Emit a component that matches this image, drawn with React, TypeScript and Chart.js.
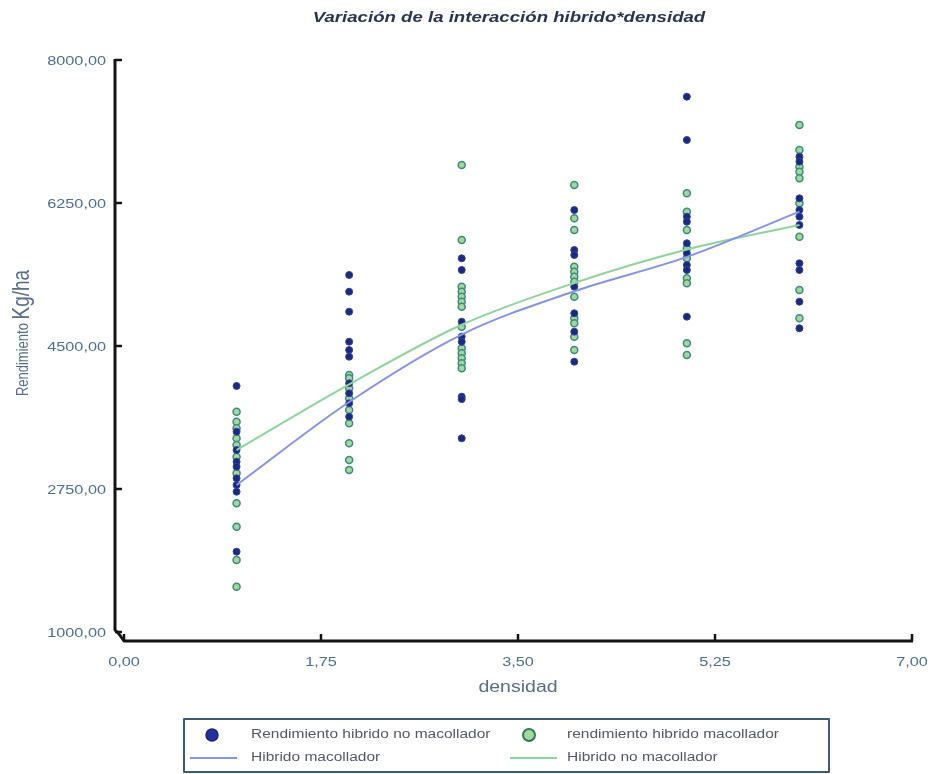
import React, { useEffect, useRef } from 'react';
import { Chart, registerables } from 'chart.js';

Chart.register(...registerables);

// ---------- data ----------
const densities = [1, 2, 3, 4, 5, 6];
const xTickStep = 1.75;
const xMin = 0;
const xMax = 7;
const yTickStep = 1750;
const yMin = 1000;
const yMax = 8000;

// Rendimiento híbrido no macollador (dark blue points), one list per density
const rendNoMacollador: number[][] = [
  [4011, 3451, 3227, 3084, 3023, 2881, 2799, 2717, 1983],
  [5369, 5165, 4920, 4553, 4451, 4369, 4044, 3921, 3799, 3635],
  [5573, 5430, 4797, 4614, 4553, 3880, 3850, 3370],
  [6164, 5675, 5614, 5226, 4900, 4675, 4308],
  [7551, 7021, 6083, 6021, 5757, 5634, 5491, 5430, 4859],
  [6817, 6756, 6307, 6164, 6083, 5981, 5512, 5430, 5042, 4717],
];

// rendimiento híbrido macollador (green points), one list per density
const rendMacollador: number[][] = [
  [3696, 3574, 3493, 3370, 3289, 3145, 2942, 2575, 2289, 1881, 1554],
  [4145, 4105, 3982, 3860, 3717, 3554, 3309, 3105, 2983],
  [6715, 5797, 5226, 5165, 5104, 5042, 4981, 4736, 4471, 4410, 4349, 4288, 4227],
  [6470, 6062, 5920, 5471, 5410, 5348, 5287, 5104, 4839, 4778, 4614, 4451],
  [6369, 6144, 5920, 5696, 5573, 5329, 5267, 4533, 4390],
  [7205, 6899, 6695, 6633, 6552, 6246, 5838, 5185, 4839],
];

// fitted curves
const fitMacollador = [2799, 3815, 4640, 5170, 5590, 6144];
const fitNoMacollador = [3227, 4030, 4760, 5271, 5680, 5981];

// ---------- text ----------
const chartTitle = 'Variación de la interacción hibrido*densidad';
const xTitle = 'densidad';
const yTitleSmall = 'Rendimiento';
const yTitleBig = 'Kg/ha';
const legendPointNoMac = 'Rendimiento hibrido no macollador';
const legendPointMac = 'rendimiento hibrido macollador';
const legendLineMac = 'Hibrido macollador';
const legendLineNoMac = 'Hibrido no macollador';

// ---------- styles ----------
const FONT = '"Liberation Sans", Arial, sans-serif';
const blueFill = '#1c2a7a';
const blueBorder = '#34429c';
const greenFill = '#a3d79e';
const greenBorder = '#3f8a80';
const blueLine = '#8594e6';
const greenLine = '#8fd49c';
const tickColor = '#4e6e92';
const STRETCH = 1.25;

const fmt = (v: number) => v.toFixed(2).replace('.', ',');

const toPoints = (cols: number[][]) =>
  cols.flatMap((col, i) => col.map((y) => ({ x: densities[i], y })));

function drawText(
  ctx: CanvasRenderingContext2D,
  text: string,
  x: number,
  y: number,
  font: string,
  color: string,
  align: CanvasTextAlign,
  sx: number = STRETCH
) {
  ctx.save();
  ctx.font = font;
  ctx.fillStyle = color;
  ctx.textBaseline = 'middle';
  ctx.textAlign = align;
  ctx.translate(x, y);
  ctx.scale(sx, 1);
  ctx.fillText(text, 0, 0);
  ctx.restore();
}

const decorPlugin = {
  id: 'decor',
  afterDraw(chart: any) {
    const ctx: CanvasRenderingContext2D = chart.ctx;
    const xs = chart.scales.x;
    const ys = chart.scales.y;
    const area = chart.chartArea;
    ctx.save();

    // axes (offset style)
    const axX = area.left - 9;
    const axY = area.bottom + 9;
    ctx.strokeStyle = '#141414';
    ctx.lineWidth = 3;
    ctx.lineJoin = 'round';
    ctx.beginPath();
    ctx.moveTo(axX, ys.getPixelForValue(yMax) - 1);
    ctx.lineTo(axX, area.bottom - 2);
    ctx.lineTo(axX + 4, area.bottom + 2);
    ctx.lineTo(area.left, axY);
    ctx.lineTo(xs.getPixelForValue(xMax) + 1, axY);
    ctx.stroke();

    ctx.lineWidth = 2.5;
    ys.ticks.forEach((t: any) => {
      const y = ys.getPixelForValue(t.value);
      ctx.beginPath();
      ctx.moveTo(axX, y);
      ctx.lineTo(axX + 7, y);
      ctx.stroke();
      drawText(ctx, fmt(t.value), axX - 9, y + 1, `13px ${FONT}`, tickColor, 'right');
    });
    xs.ticks.forEach((t: any) => {
      const x = xs.getPixelForValue(t.value);
      ctx.beginPath();
      ctx.moveTo(x, axY);
      ctx.lineTo(x, axY - 7);
      ctx.stroke();
      drawText(ctx, fmt(t.value), x, axY + 21, `13px ${FONT}`, tickColor, 'center');
    });

    // title
    drawText(ctx, chartTitle, 509, 18, `bold italic 14px ${FONT}`, '#2a3454', 'center', 1.33);

    // x title
    drawText(ctx, xTitle, (area.left + area.right) / 2, 688, `16px ${FONT}`, '#5a6e8c', 'center', 1.22);

    // y title (two sizes), stretched horizontally in image space
    ctx.save();
    ctx.translate(22, 333);
    ctx.rotate(-Math.PI / 2);
    ctx.scale(1, STRETCH);
    ctx.textAlign = 'left';
    ctx.textBaseline = 'middle';
    ctx.fillStyle = '#5a6e8c';
    ctx.font = `13px ${FONT}`;
    const wSmall = ctx.measureText(yTitleSmall + ' ').width;
    ctx.font = `19px ${FONT}`;
    const wBig = ctx.measureText(yTitleBig).width;
    const start = -(wSmall + wBig) / 2;
    ctx.font = `13px ${FONT}`;
    ctx.fillText(yTitleSmall, start, 1);
    ctx.font = `19px ${FONT}`;
    ctx.fillText(yTitleBig, start + wSmall, 0);
    ctx.restore();

    // legend
    ctx.strokeStyle = '#3c5a76';
    ctx.lineWidth = 2;
    ctx.strokeRect(184, 719, 645, 53);
    const r1 = 735;
    const r2 = 758;
    // blue point
    ctx.beginPath();
    ctx.arc(212, r1, 6, 0, Math.PI * 2);
    ctx.fillStyle = '#25319a';
    ctx.fill();
    ctx.lineWidth = 1.5;
    ctx.strokeStyle = '#1c2578';
    ctx.stroke();
    // green point
    ctx.beginPath();
    ctx.arc(529, r1, 6, 0, Math.PI * 2);
    ctx.fillStyle = greenFill;
    ctx.fill();
    ctx.lineWidth = 2;
    ctx.strokeStyle = '#2f7a52';
    ctx.stroke();
    // lines
    ctx.lineWidth = 2;
    ctx.strokeStyle = blueLine;
    ctx.beginPath();
    ctx.moveTo(190, r2);
    ctx.lineTo(237, r2);
    ctx.stroke();
    ctx.strokeStyle = greenLine;
    ctx.beginPath();
    ctx.moveTo(510, r2);
    ctx.lineTo(557, r2);
    ctx.stroke();
    const lf = `12.5px ${FONT}`;
    const lc = '#555a66';
    drawText(ctx, legendPointNoMac, 251, r1, lf, lc, 'left', 1.24);
    drawText(ctx, legendPointMac, 567, r1, lf, lc, 'left', 1.24);
    drawText(ctx, legendLineMac, 251, r2, lf, lc, 'left', 1.24);
    drawText(ctx, legendLineNoMac, 567, r2, lf, lc, 'left', 1.24);

    ctx.restore();
  },
};

export default function App() {
  const ref = useRef<HTMLCanvasElement | null>(null);

  useEffect(() => {
    document.body.style.margin = '0';
    const canvas = ref.current;
    if (!canvas) return;
    const chart = new Chart(canvas, {
      type: 'scatter',
      data: {
        datasets: [
          {
            label: legendLineMac,
            data: densities.map((x, i) => ({ x, y: fitMacollador[i] })),
            showLine: true,
            borderColor: blueLine,
            borderWidth: 2,
            pointRadius: 0,
            cubicInterpolationMode: 'monotone',
          } as any,
          {
            label: legendLineNoMac,
            data: densities.map((x, i) => ({ x, y: fitNoMacollador[i] })),
            showLine: true,
            borderColor: greenLine,
            borderWidth: 2,
            pointRadius: 0,
            cubicInterpolationMode: 'monotone',
          } as any,
          {
            label: legendPointNoMac,
            data: toPoints(rendNoMacollador),
            backgroundColor: blueFill,
            borderColor: blueBorder,
            borderWidth: 1,
            pointRadius: 3.5,
          },
          {
            label: legendPointMac,
            data: toPoints(rendMacollador),
            backgroundColor: greenFill,
            borderColor: greenBorder,
            borderWidth: 1.5,
            pointRadius: 3.5,
          },
        ],
      },
      options: {
        responsive: false,
        animation: false,
        devicePixelRatio: 1,
        layout: { padding: { left: 0, right: 19, top: 60, bottom: 0 } },
        plugins: {
          legend: { display: false },
          title: { display: false },
          tooltip: { enabled: false },
        },
        scales: {
          x: {
            type: 'linear',
            min: xMin,
            max: xMax,
            grid: { display: false, drawTicks: false },
            border: { display: false },
            ticks: {
              display: false,
              stepSize: xTickStep,
              callback: (v: any) => fmt(Number(v)),
            },
            afterFit: (s: any) => {
              s.height = 142;
              s.paddingLeft = 0;
              s.paddingRight = 0;
            },
          },
          y: {
            type: 'linear',
            min: yMin,
            max: yMax,
            grid: { display: false, drawTicks: false },
            border: { display: false },
            ticks: {
              display: false,
              stepSize: yTickStep,
              callback: (v: any) => fmt(Number(v)),
            },
            afterFit: (s: any) => {
              s.width = 124;
              s.paddingTop = 0;
              s.paddingBottom = 0;
            },
          },
        },
      },
      plugins: [decorPlugin],
    });
    return () => chart.destroy();
  }, []);

  return (
    <canvas
      ref={ref}
      width={931}
      height={774}
      style={{ display: 'block', width: 931, height: 774 }}
    />
  );
}
